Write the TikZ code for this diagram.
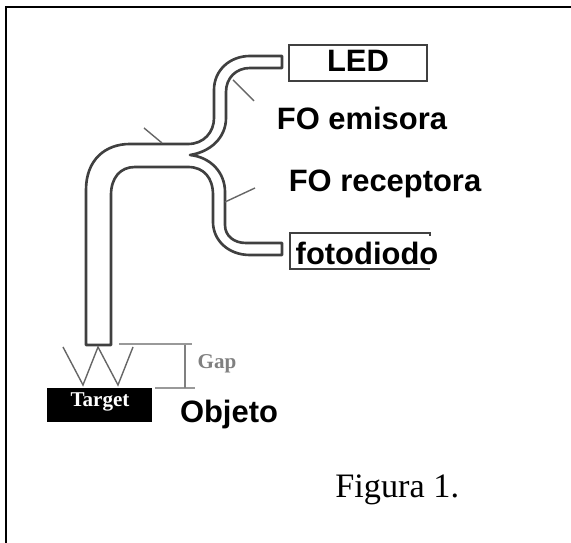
\documentclass[tikz,border=0pt]{standalone}
\usepackage{fontspec}
\setmainfont{Liberation Sans}
\newfontfamily\timesfont{Liberation Serif}
\begin{document}
\begin{tikzpicture}[
    x=0.02cm, y=-0.02cm,
    fibre/.style={line width=1.5pt, black!75, line join=round},
    leader/.style={line width=0.8pt, black!60},
    tag/.style={font=\bfseries\fontsize{17.6}{18}\selectfont, inner sep=0pt}
]
\useasboundingbox (0,0) rectangle (571,543);

% Frame
\draw[line width=1.1pt] (6,543) -- (6,7) -- (571,7);

% Fibre, outer wall
\draw[fibre] (86,345) -- (86,190) .. controls (86,160) and (105,144) .. (130,144)
    -- (188,144) .. controls (204,144) and (214,132) .. (214,118) -- (214,90)
    .. controls (214,70) and (230,56) .. (250,56) -- (282,56) -- (282,68) -- (250,68)
    .. controls (236,68) and (226,78) .. (226,92) -- (226,118)
    .. controls (226,138) and (210,152) .. (190,155)
    .. controls (210,157) and (225,172) .. (225,192) -- (225,225)
    .. controls (225,236) and (234,243) .. (246,243) -- (282,243) -- (282,255) -- (250,255)
    .. controls (228,255) and (213,240) .. (213,222) -- (213,195)
    .. controls (213,178) and (204,167) .. (188,167) -- (135,167)
    .. controls (120,167) and (111,178) .. (111,195) -- (111,345) -- cycle;

% Boxes
\draw[line width=1.5pt, black!75] (289,45) rectangle (427,81);
\draw[line width=1.2pt, black!75] (430,236) -- (430,233) -- (290,233) -- (290,269) -- (430,269);
\fill (47,388) rectangle (152,422);
\node[tag] (led) at (358,61) {LED};
\node[tag] (fotodiodo) at (367,253) {fotodiodo};

% Labels
\node[tag] (emisora) at (362,118) {FO emisora};
\node[tag] (receptora) at (385,184) {FO receptora};
\node[tag] (objeto) at (229,415) {Objeto};
\node[font=\timesfont\bfseries\fontsize{12}{12}\selectfont, text=white, inner sep=0pt] (target) at (100,402) {Target};
\node[font=\timesfont\bfseries\fontsize{12}{12}\selectfont, text=black!50, inner sep=0pt] (gap) at (217,364) {Gap};
\node[font=\timesfont\fontsize{19.5}{20}\selectfont, inner sep=0pt, anchor=base west] (figura) at (335,498) {Figura 1.};

% Leaders
\draw[leader] (144,128) -- (162,143);
\draw[leader] (233,80) -- (254,101);
\draw[leader] (225,202) -- (255,188);

% Light path
\draw[leader] (63,347) -- (83,385) -- (98,347) -- (118,385) -- (133,347);

% Gap
\draw[leader, black!40] (119,344) -- (192,344);
\draw[leader, black!40] (155,388) -- (195,388);
\draw[leader, black!50] (185,345) -- (185,388);

\end{tikzpicture}
\end{document}
